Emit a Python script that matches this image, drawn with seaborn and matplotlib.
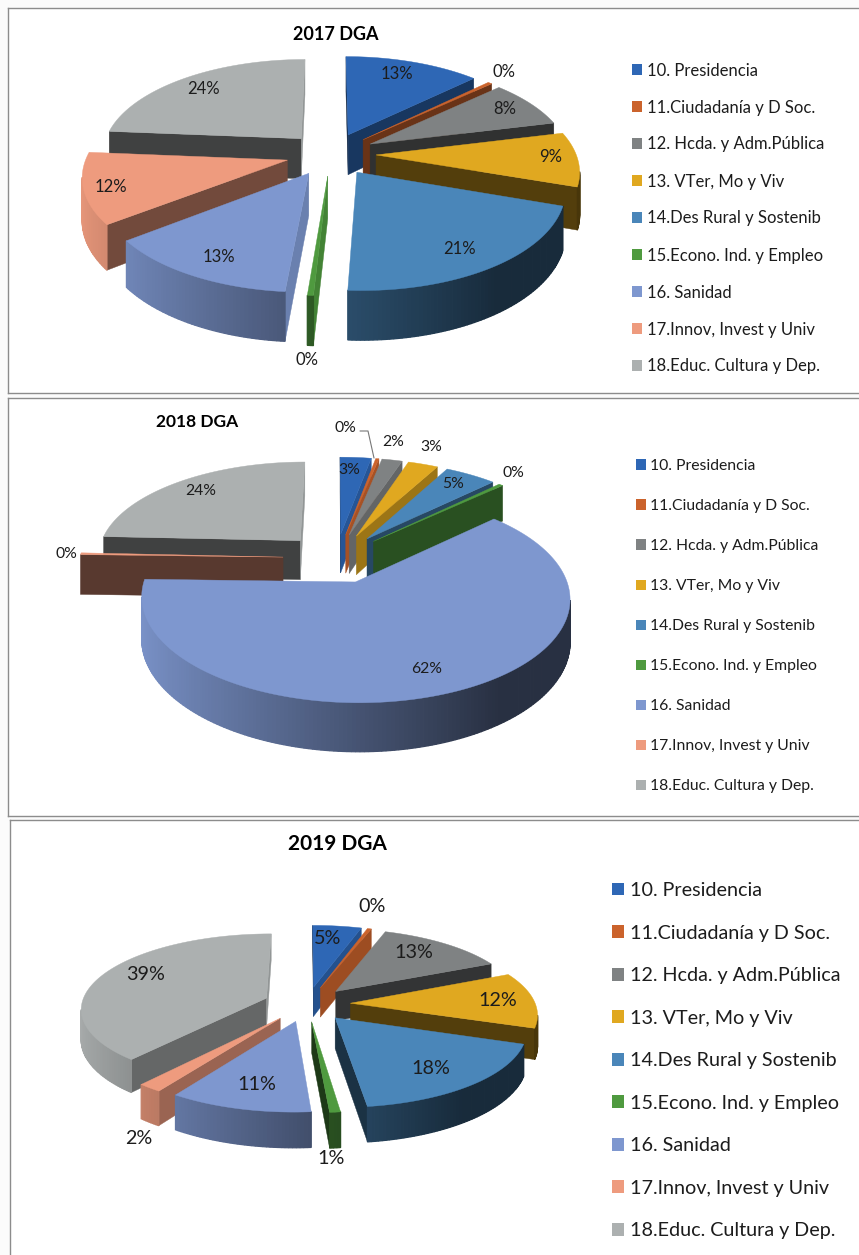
import numpy as np
import matplotlib
matplotlib.use("Agg")
import matplotlib.pyplot as plt
from matplotlib.patches import Patch
import seaborn as sns

W, H = 859, 1255

categories = ["10. Presidencia", "11.Ciudadanía y D Soc.", "12. Hcda. y Adm.Pública",
              "13. VTer, Mo y Viv", "14.Des Rural y Sostenib", "15.Econo. Ind. y Empleo",
              "16. Sanidad", "17.Innov, Invest y Univ", "18.Educ. Cultura y Dep."]
values_2017 = [12.8, 0.4, 8.0, 9.0, 20.7, 0.4, 13.3, 11.7, 23.7]
values_2018 = [2.9, 0.3, 1.9, 2.8, 4.8, 0.4, 62.4, 0.3, 24.3]
values_2019 = [4.9, 0.4, 13.0, 12.0, 17.7, 0.8, 10.6, 1.8, 38.9]
palette_hex = ["#2e67b5", "#cb632c", "#7f8283", "#e0a820", "#4a86b9",
               "#4f9a3f", "#7e97cf", "#ee9b7e", "#acb0b0"]

# layout only: panel boxes, pie geometry, text placement (pixels)
PANELS = [
    dict(title="2017 DGA", values=values_2017, box=(8, 8, 870, 393),
         cx=331, cy=154, rx=200, ry=95, d=41, e=0.225, p=0.147,
         title_xy=(336, 34), title_fs=13, fs=12,
         leg=(632, 62.5), leg_sp=1.26,
         labels=[(397, 74), (504, 72), (505, 109), (551, 157), (460, 249),
                 (307, 360), (219, 257), (111, 187), (203, 89)]),
    dict(title="2018 DGA", values=values_2018, box=(8, 398, 870, 816),
         cx=336, cy=558, rx=204, ry=95, d=40, e=0.26, p=0.148,
         title_xy=(197, 422), title_fs=12.5, fs=11.3,
         leg=(636, 459), leg_sp=1.66,
         labels=[(349, 470), (345, 428), (393, 442), (431, 447), (453, 484),
                 (513, 473), (427, 669), (66, 554), (201, 491)],
         leader=[(360, 431), (368, 431), (374, 458)]),
    dict(title="2019 DGA", values=values_2019, box=(10, 820, 870, 1262),
         cx=307, cy=1004, rx=185, ry=74, d=30, e=0.235, p=0.13,
         title_xy=(337, 844), title_fs=15, fs=14.2,
         leg=(612, 882), leg_sp=1.295,
         labels=[(328, 939), (372, 907), (414, 953), (498, 1000), (431, 1068),
                 (331, 1159), (257, 1084), (139, 1139), (146, 974)]),
]

sns.set_theme(style="white")
plt.rcParams["font.family"] = ["Lato", "DejaVu Sans"]
colors = sns.color_palette(palette_hex)
TEXT = "#1c1c1c"


def shade(c, f):
    return tuple(min(1, v * f) for v in c)


def wall_factor(x):
    return max(0.32, 0.55 - 0.4 * x) if x > 0 else 0.55 - 0.42 * x


def face_factor(nx):
    return 0.37 + 0.48 * max(0.0, nx) ** 3


def signed_area(pts):
    xs, ys = np.array(pts).T
    return np.sum(xs * np.roll(ys, -1) - np.roll(xs, -1) * ys)


def draw_pie(ax, cfg):
    vals = np.asarray(cfg["values"], dtype=float)
    edges = np.radians(np.concatenate([[0], np.cumsum(vals)]) / vals.sum() * 360)
    cx, cy, rx, ry, d, e, p = (cfg[k] for k in ("cx", "cy", "rx", "ry", "d", "e", "p"))

    def proj(X, Y, Z=0.0):
        w = 1 + p * Y
        return cx + rx * X / w, cy - ry * Y / w + d * Z / w

    mids = (edges[:-1] + edges[1:]) / 2
    order = np.argsort(-np.cos(mids))
    for i in order:
        a0, a1, m = edges[i], edges[i + 1], mids[i]
        ox, oy = e * np.sin(m), e * np.cos(m)
        c = colors[i]
        n = max(2, int(np.degrees(a1 - a0)) + 2)
        th = np.linspace(a0, a1, n)
        X, Y = ox + np.sin(th), oy + np.cos(th)

        # radial cut faces, only those turned towards the viewer
        for ang, nx, sign in ((a0, -np.cos(a0), -1), (a1, np.cos(a1), 1)):
            XY = (ox + np.sin(ang), oy + np.cos(ang))
            pts = [proj(ox, oy), proj(*XY), proj(*XY, 1), proj(ox, oy, 1)]
            if signed_area(pts) * sign > 0:
                ax.fill(*zip(*pts), color=shade(c, face_factor(nx)), lw=0.3, zorder=2)

        # outer wall, shaded along the arc
        for j in range(n - 1):
            pts = [proj(X[j], Y[j]), proj(X[j + 1], Y[j + 1]),
                   proj(X[j + 1], Y[j + 1], 1), proj(X[j], Y[j], 1)]
            if signed_area(pts) < 0:
                col = shade(c, wall_factor(np.sin((th[j] + th[j + 1]) / 2)))
                ax.fill(*zip(*pts), color=col, lw=0.9, zorder=2)

        # top face
        pts = [proj(ox, oy)] + [proj(a, b) for a, b in zip(X, Y)]
        ax.fill(*zip(*pts), color=c, lw=0.3, zorder=2)


fig = plt.figure(figsize=(W / 100, H / 100), dpi=100, facecolor="#fbfbfb")
for cfg in PANELS:
    x0, y0, x1, y1 = cfg["box"]
    ax = fig.add_axes([x0 / W, 1 - y1 / H, (x1 - x0) / W, (y1 - y0) / H])
    ax.set_xlim(x0, x1)
    ax.set_ylim(y1, y0)
    ax.set_xticks([])
    ax.set_yticks([])
    ax.set_facecolor("white")
    for s in ax.spines.values():
        s.set_color("#8c8c8c")
        s.set_linewidth(1.0)

    draw_pie(ax, cfg)

    total = sum(cfg["values"])
    for v, xy in zip(cfg["values"], cfg["labels"]):
        ax.text(*xy, f"{round(v / total * 100)}%", ha="center", va="center",
                fontsize=cfg["fs"], color=TEXT, zorder=5)
    if "leader" in cfg:
        ax.plot(*zip(*cfg["leader"]), color="#777777", lw=0.8, zorder=4)

    ax.text(*cfg["title_xy"], cfg["title"], ha="center", va="center",
            fontsize=cfg["title_fs"], fontweight="bold", color="black", zorder=5)

    handles = [Patch(facecolor=c, edgecolor="none", label=t)
               for c, t in zip(colors, categories)]
    ax.legend(handles=handles, loc="upper left", bbox_to_anchor=cfg["leg"],
              bbox_transform=ax.transData, frameon=False, borderpad=0,
              borderaxespad=0, handlelength=0.62, handleheight=0.62,
              handletextpad=0.3, labelspacing=cfg["leg_sp"],
              prop={"size": cfg["fs"]}, labelcolor=TEXT)

fig.savefig("out.png", dpi=100)
